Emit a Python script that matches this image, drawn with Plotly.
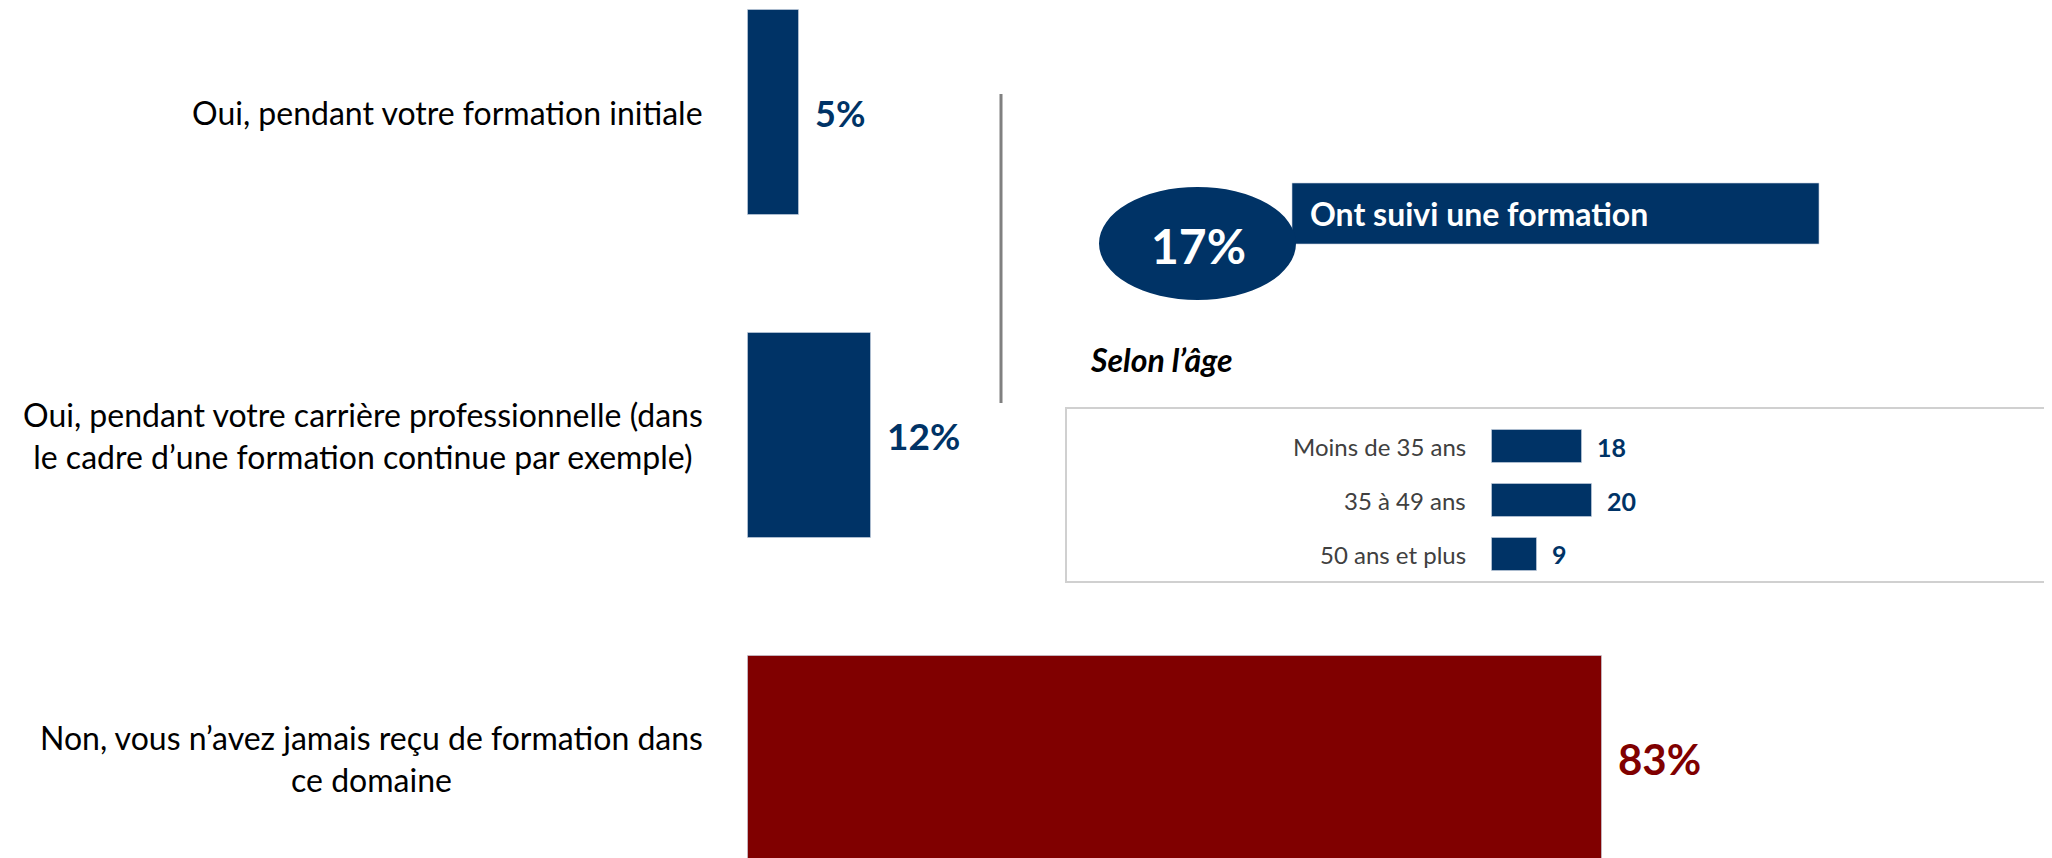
import plotly.graph_objects as go

# ---------------- data ----------------
categories = [
    "Oui, pendant votre formation initiale",
    "Oui, pendant votre carrière professionnelle (dans<br>le cadre d’une formation continue par exemple)",
    "Non, vous n’avez jamais reçu de formation dans<br>ce domaine",
]
values = [5, 12, 83]

age_groups = ["Moins de 35 ans", "35 à 49 ans", "50 ans et plus"]
age_values = [18, 20, 9]

total_label = "Ont suivi une formation"
total_value = 17
subtitle = "Selon l’âge"

# ---------------- styles ----------------
NAVY = "#003366"
RED = "#800000"
bar_colors = [NAVY, NAVY, RED]
value_sizes = [36, 37, 42]
FONT = "Lato, 'Open Sans', sans-serif"

W, H = 2052, 858
OFF = 8  # page body margin offset (reference pixel -> figure pixel)


def px(x):
    return (x - OFF) / W


def py(y):
    return 1 - (y - OFF) / H


idx = list(range(len(categories)))
age_idx = list(range(len(age_groups)))

fig = go.Figure()
fig.add_trace(go.Bar(
    x=values, y=idx, orientation="h", width=0.635,
    marker=dict(color=bar_colors, line=dict(color="rgba(200,210,225,0.6)", width=1)),
    xaxis="x", yaxis="y", hoverinfo="skip",
))
fig.add_trace(go.Bar(
    x=age_values, y=age_idx, orientation="h", width=0.61,
    marker=dict(color=NAVY, line=dict(color="rgba(200,210,225,0.6)", width=1)),
    xaxis="x2", yaxis="y2", hoverinfo="skip",
))

annotations = []
# left category labels
for i, lab in enumerate(categories):
    txt = "<br>".join(f"<span style='font-size:32px'>{line}</span>" for line in lab.split("<br>"))
    annotations.append(dict(
        x=0, y=i, xref="x", yref="y", xanchor="right", yanchor="middle",
        xshift=-43, text=txt, align="center", showarrow=False,
        font=dict(family=FONT, size=32, color="#000000"),
    ))
# main value labels
for i, v in enumerate(values):
    annotations.append(dict(
        x=v, y=i, xref="x", yref="y", xanchor="left", yanchor="middle",
        xshift=14, text=f"{v}%", showarrow=False,
        font=dict(family=FONT, size=value_sizes[i], color=bar_colors[i], weight="bold"),
    ))
# age labels
for i, (lab, v) in enumerate(zip(age_groups, age_values)):
    annotations.append(dict(
        x=0, y=i, xref="x2", yref="y2", xanchor="right", yanchor="middle",
        xshift=-24, text=lab, showarrow=False,
        font=dict(family=FONT, size=24, color="#404040"),
    ))
    annotations.append(dict(
        x=v, y=i, xref="x2", yref="y2", xanchor="left", yanchor="middle",
        xshift=13, text=str(v), showarrow=False,
        font=dict(family=FONT, size=25, color=NAVY, weight="bold"),
    ))
# callout texts
annotations.append(dict(
    x=px(1198), y=py(245), xref="paper", yref="paper", xanchor="center", yanchor="middle",
    text=f"{total_value}%", showarrow=False,
    font=dict(family=FONT, size=48, color="white", weight="bold"),
))
annotations.append(dict(
    x=px(1308), y=py(214), xref="paper", yref="paper", xanchor="left", yanchor="middle",
    text=total_label, showarrow=False,
    font=dict(family=FONT, size=32, color="white", weight="bold"),
))
annotations.append(dict(
    x=px(1088), y=py(359), xref="paper", yref="paper", xanchor="left", yanchor="middle",
    text=subtitle, showarrow=False,
    font=dict(family=FONT, size=32, color="#000000", weight="bold", style="italic"),
))

shapes = [
    # vertical separator
    dict(type="line", xref="paper", yref="paper", x0=px(1001), x1=px(1001), y0=py(94), y1=py(403),
         line=dict(color="#808080", width=3)),
    # banner
    dict(type="rect", xref="paper", yref="paper", x0=px(1292), x1=px(1819), y0=py(183), y1=py(244),
         fillcolor=NAVY, line=dict(color="rgba(200,210,225,0.6)", width=1), layer="below"),
    # ellipse
    dict(type="circle", xref="paper", yref="paper", x0=px(1099), x1=px(1296), y0=py(187), y1=py(300),
         fillcolor=NAVY, line=dict(width=0), layer="below"),
    # box around age chart
    dict(type="rect", xref="paper", yref="paper", x0=px(1066), x1=px(2070), y0=py(408), y1=py(582),
         fillcolor="rgba(0,0,0,0)", line=dict(color="#d0d0d0", width=2), layer="below"),
]

main_scale = 10.3   # px per %
x0_main = 747.5 - OFF
age_scale = 5.0
x0_age = 1492 - OFF
pitch = 323.0
c0 = 112.5 - OFF
pitch2 = 53.8
c02 = 446.7 - OFF

fig.update_layout(
    width=W, height=H,
    margin=dict(l=0, r=0, t=0, b=0),
    paper_bgcolor="white", plot_bgcolor="rgba(0,0,0,0)",
    showlegend=False,
    xaxis=dict(domain=[0, 1], range=[-x0_main / main_scale, (W - x0_main) / main_scale],
               visible=False, fixedrange=True),
    yaxis=dict(domain=[0, 1], range=[(H - c0) / pitch, -c0 / pitch], visible=False, fixedrange=True),
    xaxis2=dict(domain=[0, 1], range=[-x0_age / age_scale, (W - x0_age) / age_scale],
                visible=False, overlaying="x", anchor="y2", fixedrange=True),
    yaxis2=dict(domain=[0, 1], range=[(H - c02) / pitch2, -c02 / pitch2], visible=False,
                overlaying="y", anchor="x2", fixedrange=True),
    annotations=annotations,
    shapes=shapes,
    bargap=0,
)

fig.write_html("out.html")
